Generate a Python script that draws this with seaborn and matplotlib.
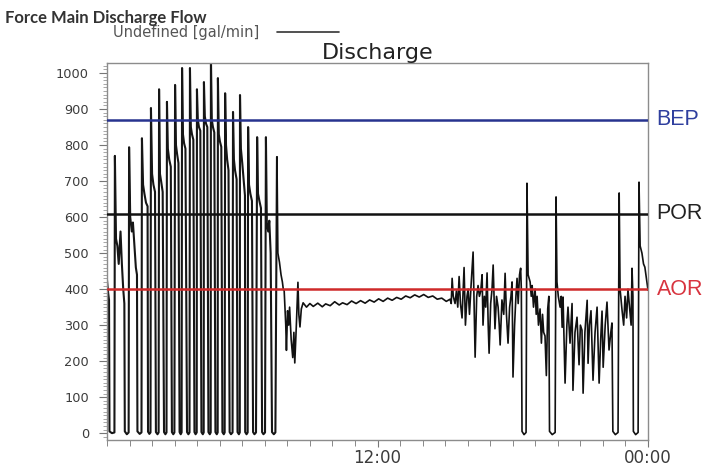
import numpy as np
import pandas as pd
import matplotlib
matplotlib.use("Agg")
import matplotlib.pyplot as plt
import matplotlib.transforms as mtransforms
from matplotlib.lines import Line2D
from matplotlib.ticker import MultipleLocator, FixedLocator
import seaborn as sns

# ---- flow record, hours since midnight vs. gal/min ----
# early pumping cycles: pump starts with a surge, holds, then shuts off
pumping_hours = [
    0.00, 0.05, 0.09, 0.11, 0.22, 0.33,
    0.35, 0.40, 0.46, 0.52, 0.60, 0.66, 0.72, 0.77, 0.79, 0.88, 0.96,
    0.98, 1.03, 1.10, 1.15, 1.22, 1.28, 1.33, 1.35, 1.45, 1.53,
    1.55, 1.60, 1.66, 1.73, 1.80, 1.82, 1.88, 1.93,
    1.95, 2.00, 2.06, 2.13, 2.17, 2.24, 2.29,
    2.31, 2.35, 2.40, 2.47, 2.53, 2.59, 2.64,
    2.66, 2.70, 2.76, 2.83, 2.88, 2.94, 2.99,
    3.02, 3.06, 3.11, 3.17, 3.22, 3.27, 3.31,
    3.33, 3.37, 3.42, 3.48, 3.55, 3.61, 3.66,
    3.68, 3.72, 3.77, 3.83, 3.88, 3.93, 3.98,
    3.99, 4.03, 4.08, 4.14, 4.19, 4.25, 4.29,
    4.30, 4.34, 4.39, 4.45, 4.50, 4.56, 4.60,
    4.61, 4.65, 4.70, 4.76, 4.81, 4.87, 4.91,
    4.92, 4.96, 5.01, 5.07, 5.12, 5.18, 5.22,
    5.24, 5.28, 5.33, 5.39, 5.44, 5.50, 5.57,
    5.59, 5.63, 5.68, 5.75, 5.79, 5.85, 5.89,
    5.90, 5.94, 6.00, 6.08, 6.12, 6.13, 6.19, 6.24,
    6.26, 6.30, 6.36, 6.43, 6.48, 6.54, 6.61,
    6.66, 6.70, 6.76, 6.83, 6.88, 6.94, 7.01,
    7.05, 7.09, 7.15, 7.20, 7.26, 7.32, 7.40, 7.47, 7.54,
]
pumping_flow = [
    425, 390, 370, 5, 0, 2,
    770, 540, 520, 470, 560, 470, 400, 360, 5, -3, 2,
    794, 600, 560, 585, 520, 460, 440, 5, -2, 2,
    819, 690, 665, 640, 630, 4, -2, 2,
    903, 720, 690, 670, 3, -3, 2,
    955, 720, 700, 670, 3, -3, 2,
    920, 790, 760, 740, 3, -3, 2,
    967, 800, 775, 750, 3, -3, 2,
    1014, 830, 805, 790, 3, -3, 2,
    1014, 850, 830, 815, 3, -3, 2,
    955, 870, 850, 840, 3, -3, 2,
    975, 880, 860, 850, 3, -3, 2,
    1045, 870, 850, 835, 3, -3, 2,
    986, 830, 810, 795, 3, -3, 2,
    944, 800, 760, 730, 3, -3, 2,
    892, 760, 730, 705, 3, -3, 2,
    939, 790, 750, 690, 660, 3, -3, 2,
    850, 690, 665, 645, 3, -3, 2,
    822, 665, 645, 625, 3, -3, 2,
    822, 585, 560, 590, 500, 3, -3, 2, 767,
]

# last surge and drop-off into steady running
recovery_hours = [
    7.54, 7.58, 7.65, 7.72, 7.78, 7.82, 7.86, 7.93, 7.96, 8.01, 8.06,
    8.10, 8.17, 8.24, 8.29, 8.33, 8.40, 8.47, 8.51, 8.56, 8.62, 8.70,
]
recovery_flow = [
    767, 500, 475, 440, 420, 400, 395, 300, 230, 340, 300,
    350, 260, 210, 280, 195, 300, 419, 330, 295, 345, 362,
]

# steady midday flow
steady_hours = [
    8.85, 9.00, 9.15, 9.35, 9.55, 9.70, 9.90, 10.10, 10.30, 10.45,
    10.65, 10.85, 11.05, 11.25, 11.45, 11.65, 11.85, 12.05, 12.25,
    12.45, 12.65, 12.85, 13.05, 13.25, 13.45, 13.65, 13.85, 14.05,
    14.25, 14.45, 14.65, 14.85, 15.05, 15.22,
]
steady_flow = [
    350, 360, 352, 361, 351, 359, 354, 365, 356, 362,
    357, 367, 360, 368, 361, 370, 364, 373, 366,
    375, 369, 377, 372, 381, 376, 384, 378, 385,
    377, 381, 372, 375, 366, 372,
]

# evening: unsteady flow with three pump restarts
evening_hours = [
    15.27, 15.31, 15.36, 15.44, 15.50, 15.56, 15.62, 15.68, 15.75, 15.80,
    15.84, 15.90, 15.97, 16.02, 16.08, 16.15, 16.24, 16.30, 16.33, 16.40,
    16.46, 16.52, 16.58, 16.64, 16.68, 16.74, 16.80, 16.86, 16.91, 16.95,
    17.02, 17.08, 17.13, 17.21, 17.28, 17.35, 17.40, 17.44, 17.52, 17.60,
    17.66, 17.72, 17.79, 17.86, 17.92, 17.97, 18.01, 18.08, 18.14, 18.19,
    18.24, 18.30, 18.35, 18.38, 18.41, 18.50, 18.59,
    18.63, 18.68, 18.77, 18.82, 18.86, 18.92, 18.99, 19.04, 19.08, 19.14,
    19.21, 19.27, 19.32, 19.37, 19.43, 19.49, 19.55, 19.60, 19.63, 19.75, 19.88,
    19.92, 19.96, 20.02, 20.10, 20.15, 20.19, 20.23, 20.32, 20.40, 20.45,
    20.54, 20.63, 20.67, 20.76, 20.85, 20.94, 21.00, 21.07, 21.12, 21.20,
    21.30, 21.34, 21.40, 21.47, 21.56, 21.65, 21.74, 21.83, 21.90, 21.96,
    22.01, 22.10, 22.18, 22.27, 22.35, 22.40, 22.44, 22.55, 22.67,
    22.72, 22.76, 22.85, 22.92, 22.98, 23.05, 23.11, 23.18, 23.25, 23.29,
    23.33, 23.35, 23.45, 23.56,
    23.60, 23.65, 23.73, 23.80, 23.86, 23.93, 24.00,
]
evening_flow = [
    360, 430, 380, 360, 395, 350, 435, 360, 320, 400,
    460, 300, 380, 400, 330, 410, 503, 300, 211, 380,
    410, 380, 395, 440, 300, 380, 350, 445, 300, 222,
    360, 400, 467, 290, 380, 350, 300, 245, 370, 330,
    444, 330, 250, 350, 380, 420, 156, 300, 380, 430,
    360, 440, 458, 400, 5, -4, 2,
    694, 440, 420, 380, 410, 350, 400, 330, 380, 300,
    345, 250, 330, 280, 270, 160, 345, 380, 5, -4, 2,
    656, 420, 380, 350, 380, 294, 378, 139, 300, 350,
    250, 360, 119, 280, 322, 190, 300, 286, 111, 280,
    369, 194, 300, 340, 147, 280, 350, 139, 260, 339,
    183, 300, 364, 231, 280, 306, 5, -4, 2,
    667, 400, 340, 300, 380, 320, 400, 350, 300, 458,
    380, 5, -4, 2,
    697, 520, 500, 470, 461, 430, 397,
]

# pump operating limits (gal/min)
limit_names = ["BEP", "POR", "AOR"]
limit_values = [870, 610, 400]
limit_line_colors = ["#27338f", "#111111", "#cf2a2a"]
limit_text_colors = ["#2f3f9e", "#222222", "#d8343f"]

hour_ticks = [12, 24]
hour_labels = ["12:00", "00:00"]

cycling = pd.DataFrame({"hour": pumping_hours, "flow": pumping_flow})
running = pd.DataFrame({
    "hour": recovery_hours + steady_hours + evening_hours,
    "flow": recovery_flow + steady_flow + evening_flow,
})

sns.set_style("ticks")
plt.rcParams["font.family"] = ["DejaVu Sans"]

fig = plt.figure(figsize=(7.03, 4.70), dpi=100)
fig.patch.set_facecolor("white")
ax = fig.add_axes([0.1522, 0.0638, 0.7696, 0.8022])

# rapid on/off cycling drawn a touch heavier so the dense strokes read as a block
sns.lineplot(data=cycling, x="hour", y="flow", ax=ax, color="#161616",
             linewidth=1.5, estimator=None, sort=False, legend=False)
sns.lineplot(data=running, x="hour", y="flow", ax=ax, color="#111111",
             linewidth=1.2, estimator=None, sort=False, legend=False)

for name, val, lc, tc in zip(limit_names, limit_values,
                             limit_line_colors, limit_text_colors):
    ax.axhline(val, color=lc, linewidth=1.8, zorder=3)
    trans = mtransforms.blended_transform_factory(ax.transAxes, ax.transData)
    ax.text(1.016, val, name, transform=trans, ha="left", va="center",
            fontsize=15.5, color=tc, family="Liberation Sans", clip_on=False)

ax.set_xlim(0, 24)
ax.set_ylim(-19, 1028)
ax.yaxis.set_major_locator(MultipleLocator(100))
ax.yaxis.set_minor_locator(MultipleLocator(10))
ax.xaxis.set_major_locator(FixedLocator(hour_ticks))
ax.set_xticklabels(hour_labels)
ax.xaxis.set_minor_locator(MultipleLocator(1))

ax.tick_params(axis="y", which="major", length=6, width=0.8, color="#777777",
               labelsize=9.3, labelcolor="#3c3c3c", pad=7)
ax.tick_params(axis="y", which="minor", length=3, width=0.6, color="#999999")
ax.tick_params(axis="x", which="major", length=5, width=0.8, color="#777777",
               labelsize=12, labelcolor="#3c3c3c", pad=1.5)
ax.tick_params(axis="x", which="minor", length=4, width=0.7, color="#888888")

for side in ax.spines.values():
    side.set_visible(True)
    side.set_color("#8c8c8c")
    side.set_linewidth(1.0)

ax.set_xlabel("")
ax.set_ylabel("")
ax.set_title("Discharge", fontsize=16, color="#222222", pad=3)

fig.text(5 / 703, 1 - 18 / 470, "Force Main Discharge Flow", ha="left",
         va="center", fontsize=12, fontweight="bold", color="#333333",
         family="Lato")

series_handle = Line2D([], [], color="#333333", linewidth=1.2)
ax.legend([series_handle], ["Undefined [gal/min]"], loc="center",
          bbox_to_anchor=(226 / 703, 1 - 33 / 470),
          bbox_transform=fig.transFigure, frameon=False, markerfirst=False,
          handlelength=4.3, handletextpad=1.2, fontsize=10.5,
          labelcolor="#555555", borderpad=0)

fig.savefig("out.png", dpi=100, facecolor="white")
